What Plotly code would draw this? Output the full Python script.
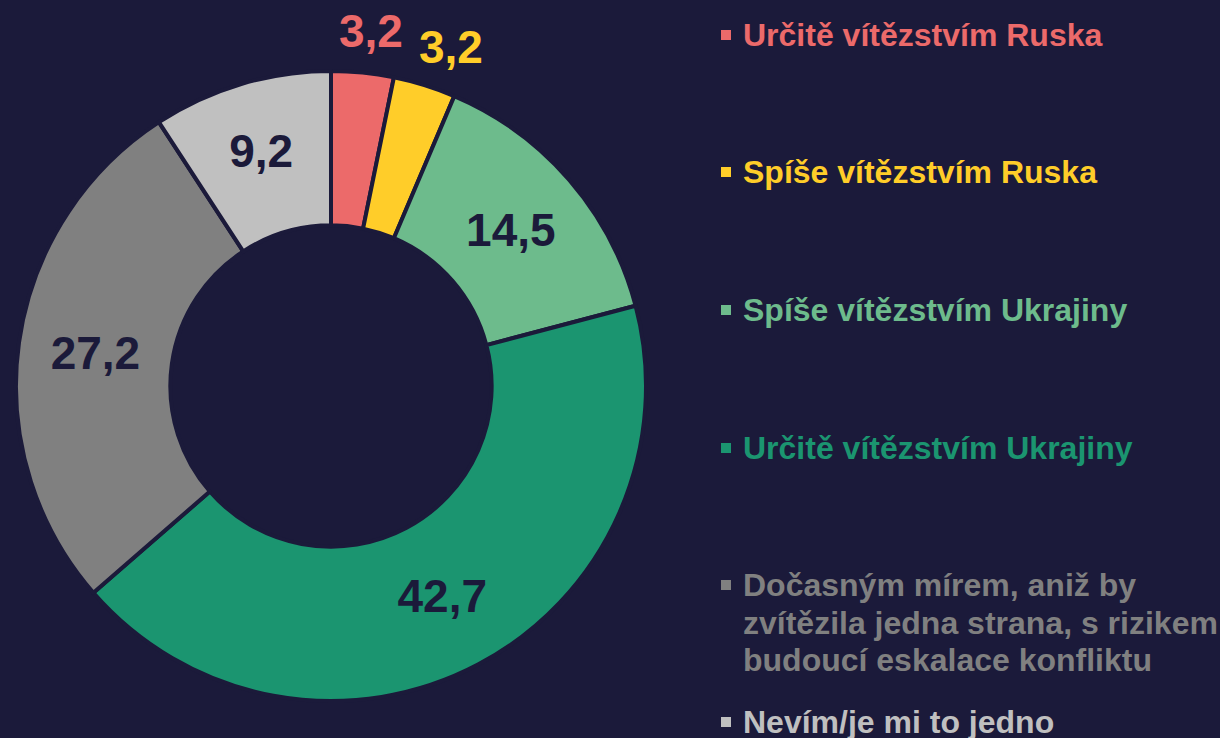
import math
import plotly.graph_objects as go

categories = [
    "Určitě vítězstvím Ruska",
    "Spíše vítězstvím Ruska",
    "Spíše vítězstvím Ukrajiny",
    "Určitě vítězstvím Ukrajiny",
    "Dočasným mírem, aniž by<br>zvítězila jedna strana, s rizikem<br>budoucí eskalace konfliktu",
    "Nevím/je mi to jedno",
]
values = [3.2, 3.2, 14.5, 42.7, 27.2, 9.2]
value_labels = ["3,2", "3,2", "14,5", "42,7", "27,2", "9,2"]
colors = ["#EC6A6A", "#FFCD29", "#6DBB8C", "#1B9570", "#808080", "#C0C0C0"]
outside = [True, True, False, False, False, False]

BG = "#1B1A3A"
INK = "#1B1A3A"
FONT = "Liberation Sans, Arial, sans-serif"
W, H = 1220, 738

# pie geometry (pixels)
CX, CY, R = 331, 386, 315

fig = go.Figure(
    go.Pie(
        labels=[c.replace("<br>", " ") for c in categories],
        values=values,
        text=["" if o else t for o, t in zip(outside, value_labels)],
        texttemplate="<b>%{text}</b>",
        textposition=["none" if o else "inside" for o in outside],
        insidetextorientation="horizontal",
        textfont=dict(family=FONT, size=46, color=INK),
        marker=dict(colors=colors, line=dict(color=BG, width=4)),
        hole=0.51,
        sort=False,
        direction="clockwise",
        rotation=0,
        automargin=False,
        showlegend=False,
        hoverinfo="label+percent",
        domain=dict(x=[(CX - R) / W, (CX + R) / W], y=[1 - (CY + R) / H, 1 - (CY - R) / H]),
    )
)

annotations = []
shapes = []

# outside value labels, placed along each slice's mid-angle
total = sum(values)
cum = 0.0
for i, v in enumerate(values):
    mid = (cum + v / 2) / total * 2 * math.pi
    cum += v
    if not outside[i]:
        continue
    rr = R + 43
    px = CX + rr * math.sin(mid) + 45 * math.sin(mid)
    py = CY - rr * math.cos(mid) + 8 * math.sin(mid)
    annotations.append(dict(
        text="<b>" + value_labels[i] + "</b>", xref="paper", yref="paper",
        x=px / W, y=1 - py / H, xanchor="center", yanchor="middle", showarrow=False,
        font=dict(family=FONT, size=46, color=colors[i]),
    ))

# custom legend
legend_y = [35, 172, 310, 448, 585, 722]
line_gap = 37.5
for i, cat in enumerate(categories):
    lines = cat.split("<br>")
    y0 = legend_y[i]
    shapes.append(dict(
        type="rect", xref="paper", yref="paper",
        x0=721 / W, x1=731 / W,
        y0=1 - (y0 + 5) / H, y1=1 - (y0 - 5) / H,
        fillcolor=colors[i], line=dict(width=0),
    ))
    for j, ln in enumerate(lines):
        annotations.append(dict(
            text="<b>" + ln + "</b>", xref="paper", yref="paper",
            x=741 / W, y=1 - (y0 + j * line_gap) / H,
            xanchor="left", yanchor="middle", showarrow=False,
            font=dict(family=FONT, size=32, color=colors[i]),
        ))

fig.update_layout(
    width=W, height=H,
    margin=dict(l=0, r=0, t=0, b=0),
    paper_bgcolor=BG, plot_bgcolor=BG,
    shapes=shapes, annotations=annotations,
)

fig.write_html(
    "out.html",
    config={"displayModeBar": False},
    post_script="document.body.style.margin='0';document.body.style.padding='0';document.body.style.background='" + BG + "';",
)
